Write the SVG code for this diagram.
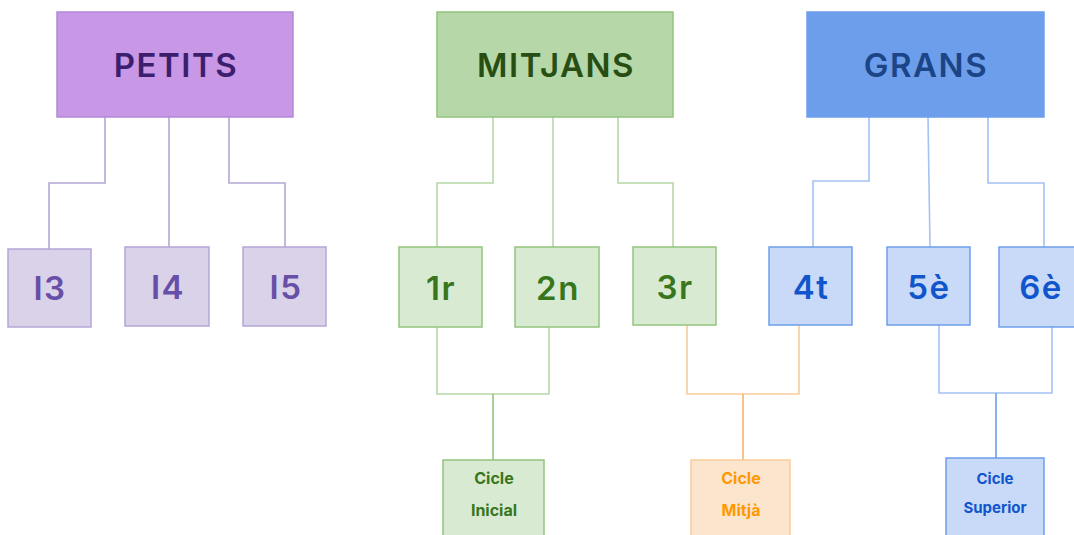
<svg xmlns="http://www.w3.org/2000/svg" width="1074" height="535" viewBox="0 0 1074 535">
<style>
text{font-family:Inter,"Liberation Sans",sans-serif;text-anchor:middle}
.big{font-size:33px;font-weight:600;letter-spacing:1.5px}
.small{font-size:16px;font-weight:700}
.sm2{font-size:15px;font-weight:700}
.c{fill:none;stroke-width:1.6}
.n{stroke-width:1.5}
</style>
<rect width="1074" height="535" fill="#fff"/>
<g id="connectors">
<path class="c" stroke="#b4a7d6" d="M105 117V183H49V249M169 117V247M229 117V183H285V247"/>
<path class="c" stroke="#b6d7a8" d="M493 117V183H437V247M553 117V247M618 117V183H673V247"/>
<path class="c" stroke="#a4c2f4" d="M869 117V181H813V247M928 117L930 247M988 117V183H1044V247"/>
<path class="c" stroke="#b6d7a8" d="M437 327V394H549V327"/>
<path class="c" stroke="#93c47d" d="M493 394V460"/>
<path class="c" stroke="#f9cb9c" d="M687 325V394H799V325"/>
<path class="c" stroke="#f6b26b" d="M743 394V460"/>
<path class="c" stroke="#a4c2f4" d="M939 325V393H1052V327"/>
<path class="c" stroke="#6d9eeb" d="M996 393V458"/>
</g>
<g id="petits"><rect class="n" x="57" y="12" width="236" height="105" fill="#c897e6" stroke="#b08ad6"/><text class="big" x="176" y="77" fill="#3b1f6e">PETITS</text></g>
<g id="mitjans"><rect class="n" x="437" y="12" width="236" height="105" fill="#b6d7a8" stroke="#93c47d"/><text class="big" x="556" y="77" fill="#274e13">MITJANS</text></g>
<g id="grans"><rect class="n" x="807" y="12" width="237" height="105" fill="#6d9eeb" stroke="#6d9eeb"/><text class="big" x="926" y="77" fill="#1c4587">GRANS</text></g>
<g id="i3"><rect class="n" x="8" y="249" width="83" height="78" fill="#d9d2e9" stroke="#b4a7d6"/><text class="big" x="50" y="300" fill="#674ea7">I3</text></g>
<g id="i4"><rect class="n" x="125" y="247" width="84" height="79" fill="#d9d2e9" stroke="#b4a7d6"/><text class="big" x="168" y="299" fill="#674ea7">I4</text></g>
<g id="i5"><rect class="n" x="243" y="247" width="83" height="79" fill="#d9d2e9" stroke="#b4a7d6"/><text class="big" x="286" y="299" fill="#674ea7">I5</text></g>
<g id="n1r"><rect class="n" x="399" y="247" width="83" height="80" fill="#d9ead3" stroke="#93c47d"/><text class="big" x="441" y="300" fill="#38761d">1r</text></g>
<g id="n2n"><rect class="n" x="515" y="247" width="84" height="80" fill="#d9ead3" stroke="#93c47d"/><text class="big" x="558" y="300" fill="#38761d">2n</text></g>
<g id="n3r"><rect class="n" x="633" y="247" width="83" height="78" fill="#d9ead3" stroke="#93c47d"/><text class="big" x="675" y="299" fill="#38761d">3r</text></g>
<g id="n4t"><rect class="n" x="769" y="247" width="83" height="78" fill="#c9daf8" stroke="#6d9eeb"/><text class="big" x="811" y="299" fill="#1155cc">4t</text></g>
<g id="n5e"><rect class="n" x="887" y="247" width="83" height="78" fill="#c9daf8" stroke="#6d9eeb"/><text class="big" x="929" y="299" fill="#1155cc">5è</text></g>
<g id="n6e"><rect class="n" x="999" y="247" width="80" height="80" fill="#c9daf8" stroke="#6d9eeb"/><text class="big" x="1041" y="299" fill="#1155cc">6è</text></g>
<g id="inicial"><rect class="n" x="443" y="460" width="101" height="80" fill="#d9ead3" stroke="#93c47d"/><text class="small" x="494" y="484" fill="#38761d">Cicle</text><text class="small" x="494" y="516" fill="#38761d">Inicial</text></g>
<g id="mitja"><rect class="n" x="691" y="460" width="99" height="80" fill="#fce5cd" stroke="#f9cb9c"/><text class="small" x="741" y="484" fill="#ff9900">Cicle</text><text class="small" x="741" y="516" fill="#ff9900">Mitjà</text></g>
<g id="superior"><rect class="n" x="946" y="458" width="98" height="82" fill="#c9daf8" stroke="#6d9eeb"/><text class="sm2" x="995" y="484" fill="#1155cc">Cicle</text><text class="sm2" x="995" y="513" fill="#1155cc">Superior</text></g>
</svg>
